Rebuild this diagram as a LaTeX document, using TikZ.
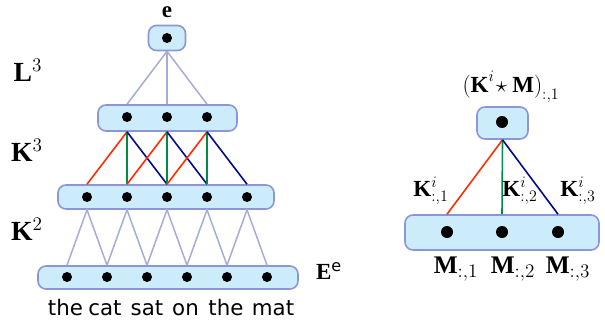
\documentclass[tikz,border=0pt]{standalone}
\usepackage{fontspec}
\setmainfont{Liberation Serif}
\setsansfont{DejaVu Sans}
\usetikzlibrary{positioning}
\definecolor{layerfill}{RGB}{204,236,252}
\definecolor{layerdraw}{RGB}{140,150,215}
\definecolor{linkcol}{RGB}{165,170,215}
\definecolor{kred}{RGB}{255,45,0}
\definecolor{kgreen}{RGB}{0,140,70}
\definecolor{kblue}{RGB}{0,10,140}
\tikzset{
  layerbox/.style={
    rectangle, draw=layerdraw, fill=layerfill, line width=1.2pt,
    rounded corners=6pt, inner sep=0pt
  },
  unit/.style={circle, fill=black, minimum size=7.5pt, inner sep=0pt},
  bigunit/.style={unit, minimum size=9pt},
  link/.style={linkcol, line width=1.1pt},
  kfirst/.style={kred, line width=1.2pt},
  ksecond/.style={kgreen, line width=1.2pt},
  kthird/.style={kblue, line width=1.2pt},
  biglabel/.style={font=\huge, inner sep=0pt},
  midlabel/.style={font=\LARGE, inner sep=0pt},
  collabel/.style={font=\fontsize{19}{22}\selectfont, inner sep=0pt},
  word/.style={font=\sffamily\fontsize{16}{19}\selectfont, anchor=base, inner sep=0pt},
}

\begin{document}
\begin{tikzpicture}[x=0.75pt, y=-0.75pt]
  \useasboundingbox (0,0) rectangle (605,325);

  % ── Layer boxes (left) ──
  \node[layerbox, minimum width=27.75pt, minimum height=18.75pt] (top) at (167,38) {};
  \node[layerbox, minimum width=104.25pt, minimum height=19.5pt] (conv3) at (167.5,118) {};
  \node[layerbox, minimum width=162pt, minimum height=18pt] (conv2) at (166,197) {};
  \node[layerbox, minimum width=195pt, minimum height=17.25pt] (embed) at (168,277.5) {};

  % ── Units ──
  \node[unit] (t) at (167,38) {};
  \foreach \i/\x in {1/127,2/167,3/207}
    \node[unit] (c3-\i) at (\x,117) {};
  \foreach \i/\x in {1/87,2/127,3/167,4/207,5/247}
    \node[unit] (c2-\i) at (\x,197) {};
  \foreach \i/\x in {1/67,2/107,3/147,4/187,5/227,6/267}
    \node[unit] (w-\i) at (\x,277) {};

  % ── Connections ──
  \foreach \i in {1,2,3}
    \draw[link] (top.south) -- (c3-\i |- conv3.north);
  \foreach \i/\j/\k in {1/2/3,2/3/4,3/4/5}{
    \draw[kfirst] (c3-\i |- conv3.south) -- (c2-\i |- conv2.north);
    \draw[ksecond] (c3-\i |- conv3.south) -- (c2-\j |- conv2.north);
    \draw[kthird] (c3-\i |- conv3.south) -- (c2-\k |- conv2.north);
  }
  \foreach \i/\j in {1/2,2/3,3/4,4/5,5/6}
    \draw[link] (w-\i |- embed.north) -- (c2-\i |- conv2.south) -- (w-\j |- embed.north);

  % ── Labels (left) ──
  \node[midlabel, anchor=base] (elbl) at (167,17) {\textbf{e}};
  \node[biglabel] (lthree) at (28,70) {$\mathbf{L}^3$};
  \node[biglabel] (kthree) at (27,150) {$\mathbf{K}^3$};
  \node[biglabel] (ktwo) at (27,229) {$\mathbf{K}^2$};
  \node[midlabel] (elayer) at (329,271) {$\mathbf{E}^{\mathsf{e}}$};
  \foreach \i/\x/\w in {1/65.5/the,2/105/cat,3/147/sat,4/185.5/on,5/226/the,6/273/mat}
    \node[word] (word-\i) at (\x,315) {\w};

  % ── Single filter (right) ──
  \node[layerbox, minimum width=38.25pt, minimum height=24pt] (rtop) at (502.5,123) {};
  \node[layerbox, minimum width=145.5pt, minimum height=26.25pt] (rbot) at (502,232.5) {};
  \node[bigunit] (rt) at (502,122) {};
  \foreach \i/\x in {1/447,2/502,3/558}
    \node[bigunit] (m-\i) at (\x,232) {};

  \draw[kfirst] (rtop.south) -- (m-1 |- rbot.north);
  \draw[ksecond] (rtop.south) -- (m-2 |- rbot.north);
  \draw[kthird] (rtop.south) -- (m-3 |- rbot.north);

  \node[midlabel] (outlbl) at (511,87) {$\mathbf{(K}^{i}\!\star\mathbf{M)}_{:,1}$};
  \node[midlabel] (kone) at (431,191) {$\mathbf{K}^{i}_{:,1}$};
  \node[midlabel] (ktwoi) at (520,191) {$\mathbf{K}^{i}_{:,2}$};
  \node[midlabel] (kthreei) at (578,191) {$\mathbf{K}^{i}_{:,3}$};
  \foreach \i/\x in {1/456,2/513,3/568}
    \node[collabel] (mlbl-\i) at (\x,269) {$\mathbf{M}_{:,\i}$};
\end{tikzpicture}
\end{document}
